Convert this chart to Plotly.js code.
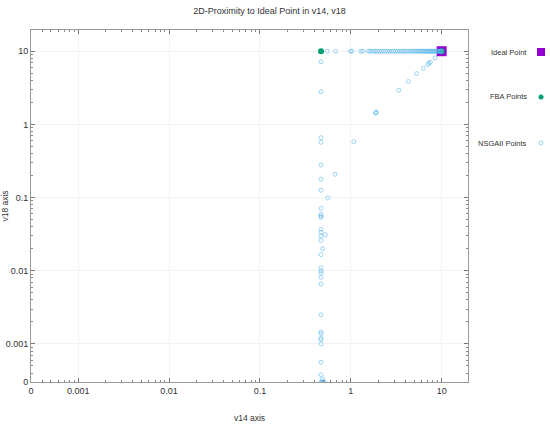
<!DOCTYPE html>
<html>
<head>
<meta charset="utf-8">
<script src="https://cdn.plot.ly/plotly-3.0.1.min.js"></script>
<style>
  body { margin: 0; background: #fff; }
  #grafico { width: 550px; height: 428px; }
</style>
</head>
<body>
<div id="grafico"></div>
<script>
// Ideal point
var idealX = [10];
var idealY = [10];

// FBA points
var fbaX = [0.47, 10];
var fbaY = [10, 10];

// NSGAII points (row at v18 = 10, diagonal, column near v14 = 0.47)
var nsgaX = [
  0.55, 0.68, 0.99, 1.03, 1.29, 1.35, 1.55, 1.62, 1.7, 1.8, 1.88, 1.97, 2.08, 2.18,
  2.3, 2.42, 2.55, 2.68, 2.82, 2.95, 3.1, 3.25, 3.42, 3.58, 3.75, 3.92, 4.1, 4.3,
  4.5, 4.7, 4.9, 5.1, 5.3, 5.5, 5.7, 5.9, 6.1, 6.3, 6.5, 6.7, 6.9, 7.1, 7.3, 7.5,
  7.7, 7.9, 8.1, 8.3, 8.5, 8.7, 8.9, 9.1, 9.3, 9.5, 9.7, 9.9, 10,
  8.45, 7.5, 7.25, 7.07, 6.3, 5.3, 4.3, 3.37, 1.89, 1.87, 1.91, 1.08,
  0.47, 0.47, 0.47, 0.47, 0.47, 0.47, 0.47, 0.47, 0.47, 0.47, 0.47, 0.47, 0.47,
  0.47, 0.47, 0.47, 0.47, 0.47, 0.47, 0.47, 0.47, 0.47, 0.47, 0.47, 0.47, 0.47,
  0.47, 0.47, 0.47,
  0.67, 0.56, 0.525, 0.49, 0.49,
  0.47, 0.48, 0.49, 0.5, 0.51
];
var nsgaY = [
  10, 10, 10, 10, 10, 10, 10, 10, 10, 10, 10, 10, 10, 10,
  10, 10, 10, 10, 10, 10, 10, 10, 10, 10, 10, 10, 10, 10,
  10, 10, 10, 10, 10, 10, 10, 10, 10, 10, 10, 10, 10, 10, 10, 10,
  10, 10, 10, 10, 10, 10, 10, 10, 10, 10, 10, 10, 10,
  8.1, 7.1, 6.85, 6.58, 5.85, 4.95, 3.85, 2.93, 1.45, 1.43, 1.47, 0.58,
  7.2, 2.8, 0.66, 0.57, 0.28, 0.178, 0.126, 0.071, 0.059, 0.056, 0.054, 0.037, 0.0335,
  0.030, 0.026, 0.0166, 0.011, 0.010, 0.0093, 0.0081, 0.0066, 0.0025, 0.00146, 0.00138, 0.0012, 0.00115,
  0.001, 0.00056, 0.00038,
  0.208, 0.099, 0.031, 0.020, 0.00033,
  0, 0, 0, 0, 0
];

// Tick labels for both log axes ("0" sits at the lower end of the range)
var tickText = ['0', '0.001', '0.01', '0.1', '1', '10'];
var tickVals = [0, 0.001, 0.01, 0.1, 1, 10];

var logMin = -3.52;
var logMax = 1.29;
var zeroFloor = Math.pow(10, logMin);
function floorZero(v) { return v === 0 ? zeroFloor : v; }

// minor ticks at 2..9 of every decade
var minorVals = [];
for (var d = -4; d <= 1; d++) {
  for (var m = 2; m <= 9; m++) minorVals.push(m * Math.pow(10, d));
}

var trace1 = {
  x: idealX, y: idealY.map(floorZero),
  name: 'Ideal Point', type: 'scatter', mode: 'markers',
  marker: { symbol: 'square', size: 10, color: '#9400d3' }
};
var trace2 = {
  x: fbaX.map(floorZero), y: fbaY.map(floorZero),
  name: 'FBA Points', type: 'scatter', mode: 'markers',
  marker: { symbol: 'circle', size: 6, color: '#009e73' }
};
var trace3 = {
  x: nsgaX.map(floorZero), y: nsgaY.map(floorZero),
  name: 'NSGAII Points', type: 'scatter', mode: 'markers',
  marker: { symbol: 'circle-open', size: 4, color: 'rgba(86,180,233,0.55)', line: { width: 1 } }
};

var data = [trace1, trace2, trace3];

var axisBase = {
  type: 'log',
  range: [logMin, logMax],
  tickmode: 'array',
  tickvals: tickVals.map(floorZero),
  ticktext: tickText,
  ticks: 'inside',
  ticklen: 4,
  tickcolor: '#777',
  showline: true,
  linecolor: '#999',
  mirror: 'allticks',
  showgrid: true,
  gridcolor: '#f2f2f2',
  zeroline: false,
  tickfont: { size: 9, color: '#333' },
  minor: { tickmode: 'array', tickvals: minorVals, ticks: 'inside', ticklen: 2, tickcolor: '#888', showgrid: false }
};

function px(x) { return (x - 31) / 437; }
function py(y) { return (382 - y) / 352; }

var legendRows = [
  { text: 'Ideal Point', y: 52 },
  { text: 'FBA Points', y: 97 },
  { text: 'NSGAII Points', y: 143 }
];

var annotations = legendRows.map(function (r) {
  return {
    xref: 'paper', yref: 'paper', x: px(529), y: py(r.y),
    xanchor: 'right', yanchor: 'middle', showarrow: false,
    text: r.text, font: { size: 7.5, color: '#333' }
  };
});

var shapes = [
  { type: 'rect', xref: 'paper', yref: 'paper', x0: px(537), x1: px(545), y0: py(56), y1: py(48),
    fillcolor: '#9400d3', line: { width: 0 } },
  { type: 'circle', xref: 'paper', yref: 'paper', x0: px(538.5), x1: px(543.5), y0: py(99.5), y1: py(94.5),
    fillcolor: '#009e73', line: { width: 0 } },
  { type: 'circle', xref: 'paper', yref: 'paper', x0: px(539), x1: px(543), y0: py(145), y1: py(141),
    fillcolor: 'rgba(0,0,0,0)', line: { width: 1, color: 'rgba(86,180,233,0.55)' } }
];

var layout = {
  width: 550,
  height: 428,
  margin: { l: 31, r: 82, t: 30, b: 46 },
  paper_bgcolor: '#fff',
  plot_bgcolor: '#fff',
  font: { family: 'Liberation Sans, Arial, sans-serif', color: '#333' },
  title: { text: '2D-Proximity to Ideal Point in v14, v18', x: 0.49, y: 0.982, yanchor: 'top', font: { size: 9, color: '#333' } },
  showlegend: false,
  hovermode: false,
  xaxis: Object.assign({}, axisBase, { title: { text: 'v14 axis', standoff: 20, font: { size: 8.5, color: '#333' } } }),
  yaxis: Object.assign({}, axisBase, { title: { text: 'v18 axis', standoff: 6, font: { size: 8.5, color: '#333' } } }),
  annotations: annotations,
  shapes: shapes
};

Plotly.newPlot('grafico', data, layout, { displayModeBar: false, staticPlot: true });
</script>
</body>
</html>
